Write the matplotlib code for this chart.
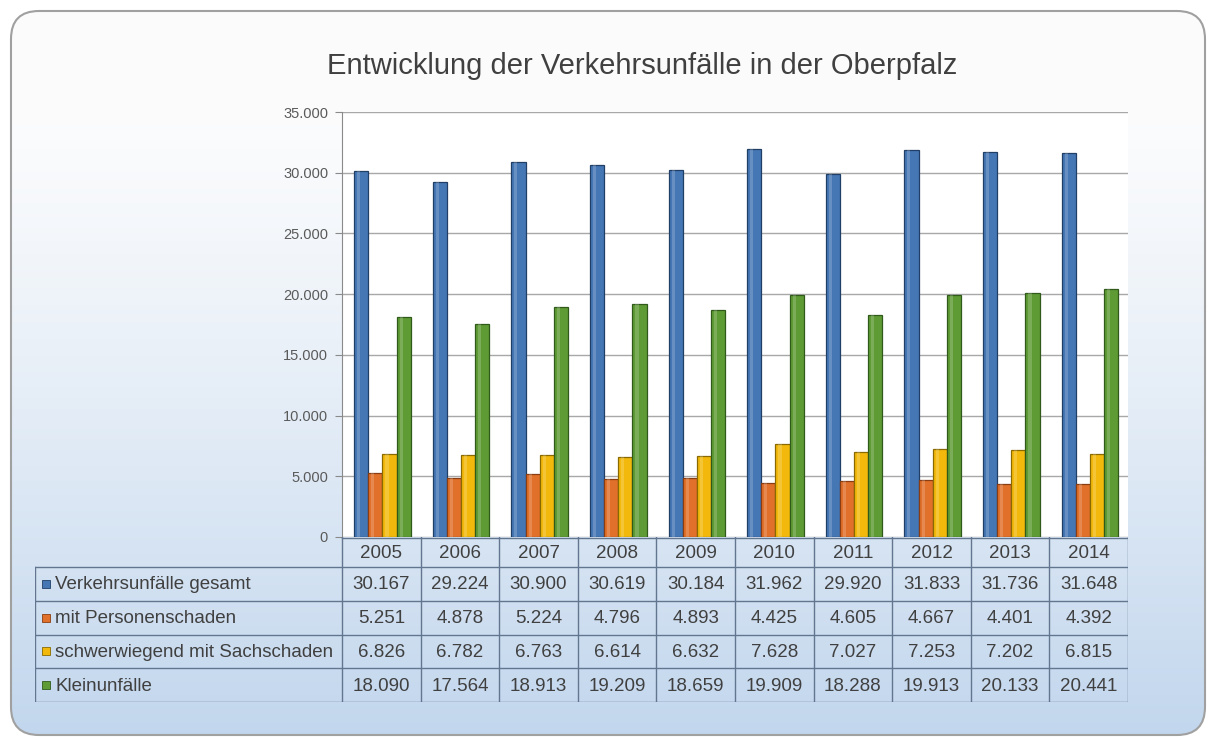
import numpy as np
import matplotlib.pyplot as plt
from matplotlib.patches import FancyBboxPatch, Rectangle
from matplotlib.ticker import FuncFormatter

plt.rcParams["font.family"] = ["Liberation Sans", "DejaVu Sans"]

YEARS = ["2005", "2006", "2007", "2008", "2009", "2010", "2011", "2012", "2013", "2014"]
SERIES = ["Verkehrsunfälle gesamt", "mit Personenschaden",
          "schwerwiegend mit Sachschaden", "Kleinunfälle"]
GESAMT = [30167, 29224, 30900, 30619, 30184, 31962, 29920, 31833, 31736, 31648]
PERSONEN = [5251, 4878, 5224, 4796, 4893, 4425, 4605, 4667, 4401, 4392]
SACHSCHADEN = [6826, 6782, 6763, 6614, 6632, 7628, 7027, 7253, 7202, 6815]
KLEIN = [18090, 17564, 18913, 19209, 18659, 19909, 18288, 19913, 20133, 20441]
TITLE = "Entwicklung der Verkehrsunfälle in der Oberpfalz"

COLORS = ["#4677b5", "#e0702a", "#f2b90c", "#5f9b35"]
EDGES = ["#1f3f66", "#8a3d12", "#8a6a00", "#2f5a1a"]

W, H = 1209, 740
fig = plt.figure(figsize=(W / 100, H / 100), dpi=100)
fig.patch.set_facecolor("white")


def px_axes(x0, y0, x1, y1):
    # pixel box (top-left origin) -> figure axes
    return fig.add_axes([x0 / W, 1 - y1 / H, (x1 - x0) / W, (y1 - y0) / H])


# background panel with vertical gradient
bg = fig.add_axes([0, 0, 1, 1], zorder=-10)
bg.set_xlim(0, W)
bg.set_ylim(H, 0)
bg.axis("off")
top = np.array([0.985, 0.988, 0.992])
bot = np.array([0.76, 0.84, 0.93])
t = np.linspace(0, 1, 256)
t = np.clip((t - 0.15) / 0.85, 0, 1) ** 1.2
grad = top[None, :] * (1 - t[:, None]) + bot[None, :] * t[:, None]
grad = np.repeat(grad[:, None, :], 2, axis=1)
panel = FancyBboxPatch((11, 11), W - 15, H - 16,
                       boxstyle="round,pad=0,rounding_size=28",
                       facecolor="none", edgecolor="#a0a0a0", linewidth=1.5)
bg.add_patch(panel)
img = bg.imshow(grad, extent=[11, W - 4, H - 5, 11], aspect="auto")
img.set_clip_path(panel)

fig.text(642 / W, 1 - 66 / H, TITLE, ha="center", va="center",
         fontsize=21, color="#404040")

# bar chart
ax = px_axes(342, 112, 1128, 537)
ax.set_facecolor("white")
x = np.arange(len(YEARS))
width = 0.18
values = [GESAMT, PERSONEN, SACHSCHADEN, KLEIN]
for i, vals in enumerate(values):
    pos = x + (i - 1.5) * width + 0.015
    ax.bar(pos, vals, width, color=COLORS[i], edgecolor=EDGES[i],
           linewidth=0.9, zorder=3)
    # light strip to hint at the 3D shading
    ax.bar(pos - width * 0.18, vals, width * 0.22, color="white",
           alpha=0.18, linewidth=0, zorder=4)

ax.set_xlim(-0.5, len(YEARS) - 0.5)
ax.set_ylim(0, 35000)
ax.set_yticks(range(0, 35001, 5000))
ax.yaxis.set_major_formatter(FuncFormatter(lambda v, p: f"{int(v):,}".replace(",", ".")))
ax.tick_params(axis="y", labelsize=10.5, labelcolor="#5a5a5a", color="#8a8a8a",
               length=5, pad=5)
ax.set_xticks([])
ax.grid(axis="y", color="#a8a8a8", linewidth=1.0, zorder=0)
for side in ["top", "right", "bottom"]:
    ax.spines[side].set_visible(False)
ax.spines["left"].set_color("#8a8a8a")

# data table below the chart
col_w = (1128 - 342) / len(YEARS)
left_px = 35
tx_left = -0.5 - (342 - left_px) / col_w
tab = px_axes(left_px, 537, 1128, 702)
tab.set_xlim(tx_left, len(YEARS) - 0.5)
header_h = 30
row_h = (702 - 537 - header_h) / len(SERIES)
tab.set_ylim(702 - 537, 0)
tab.axis("off")
line_c = "#62778f"
txt_size = 13.5

for j, year in enumerate(YEARS):
    tab.text(j, header_h / 2 + 1, year, ha="center", va="center",
             fontsize=txt_size, color="#404040")
for i, (name, vals) in enumerate(zip(SERIES, values)):
    yc = header_h + (i + 0.5) * row_h
    tab.add_patch(Rectangle((tx_left + 0.09, yc - 4), 0.1, 8,
                            facecolor=COLORS[i], edgecolor=EDGES[i],
                            linewidth=0.6))
    tab.text(tx_left + 0.26, yc + 1, name, ha="left", va="center",
             fontsize=txt_size, color="#404040")
    for j, v in enumerate(vals):
        tab.text(j, yc + 1, f"{v:,}".replace(",", "."), ha="center",
                 va="center", fontsize=txt_size, color="#404040")

# grid lines of the table
x_right = len(YEARS) - 0.5
tab.plot([-0.5, x_right], [0.5, 0.5], color=line_c, lw=1.0)
for i in range(len(SERIES) + 1):
    yy = header_h + i * row_h
    tab.plot([tx_left, x_right], [yy, yy], color=line_c, lw=1.0)
tab.plot([tx_left, tx_left], [header_h, 702 - 537 - 0.5], color=line_c, lw=1.0)
for j in range(len(YEARS) + 1):
    xx = j - 0.5
    tab.plot([xx, xx], [0, 702 - 537 - 0.5], color=line_c, lw=1.0)

fig.savefig("out.png", dpi=100)
